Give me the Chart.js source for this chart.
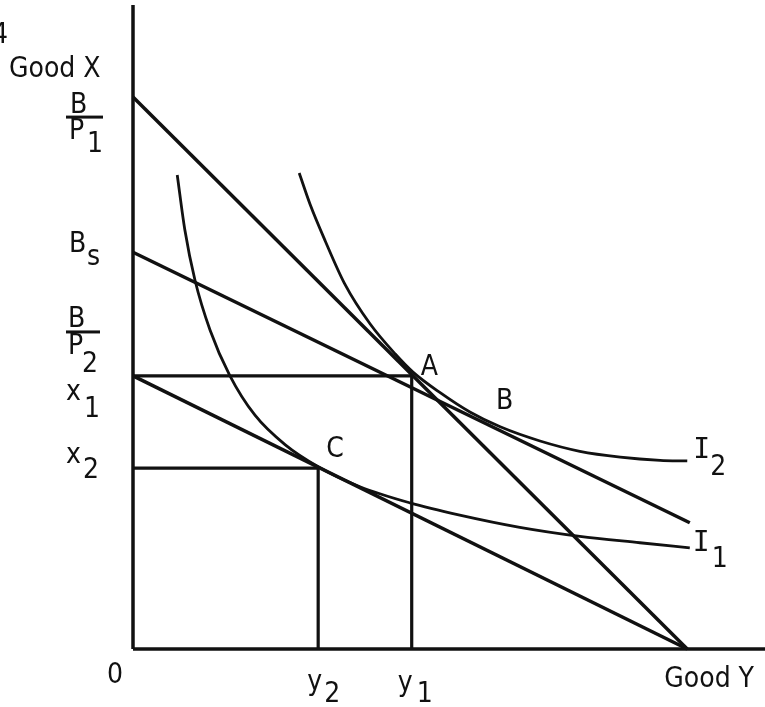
<!DOCTYPE html>
<html>
<head>
<meta charset="utf-8">
<script src="https://cdn.jsdelivr.net/npm/chart.js@4"></script>
<style>
html, body { margin: 0; padding: 0; background: #fff; }
#wrap { width: 765px; height: 707px; }
</style>
</head>
<body>
<div id="wrap"><canvas id="myChart" width="765" height="707"></canvas></div>
<script>
// axis ranges, arbitrary units
const xMax = 10;
const yMax = 10;

// budget lines (x = Good Y, y = Good X)
const budgetP1 = [{x: 0, y: 8.57}, {x: 8.77, y: 0}];
const budgetS = [{x: 0, y: 6.16}, {x: 8.81, y: 1.96}];
const budgetP2 = [{x: 0, y: 4.24}, {x: 8.77, y: 0}];

// chosen quantities: x1, x2 on Good X and y1, y2 on Good Y
const goodXLevels = [4.24, 2.81];
const goodYLevels = [4.41, 2.93];
const pointB = {x: 5.57, y: 3.51};

// indifference curves
const curveI2x = [2.63, 2.80, 3.04, 3.35, 3.75, 4.15, 4.43, 4.86, 5.33, 5.81, 6.44, 7.07, 7.71, 8.34, 8.77];
const curveI2y = [7.39, 6.91, 6.34, 5.67, 5.05, 4.58, 4.30, 3.98, 3.68, 3.45, 3.23, 3.07, 2.98, 2.93, 2.92];
const curveI1x = [0.70, 0.82, 0.98, 1.22, 1.53, 1.93, 2.41, 2.93, 3.59, 4.38, 5.17, 6.12, 7.07, 8.02, 8.81];
const curveI1y = [7.36, 6.51, 5.73, 4.95, 4.25, 3.63, 3.17, 2.83, 2.52, 2.27, 2.08, 1.89, 1.75, 1.65, 1.57];

const ink = '#111';

function toPoints(xs, ys) {
    return xs.map((x, i) => ({x: x, y: ys[i]}));
}

function lineSet(data, width, smooth) {
    return {
        data: data,
        showLine: true,
        borderColor: ink,
        borderWidth: width,
        pointRadius: 0,
        cubicInterpolationMode: smooth ? 'monotone' : 'default',
        tension: smooth ? 0.4 : 0,
        fill: false,
        clip: false
    };
}

const labelPlugin = {
    id: 'labels',
    afterDatasetsDraw(chart) {
        const ctx = chart.ctx;
        const xs = chart.scales.x;
        const ys = chart.scales.y;
        const ax = xs.getPixelForValue(0);
        const ay = ys.getPixelForValue(0);
        const sans = '28px "DejaVu Sans Condensed"';
        const mono = '28px "DejaVu Sans Mono"';

        ctx.save();
        ctx.fillStyle = ink;
        ctx.textBaseline = 'alphabetic';
        ctx.textAlign = 'left';
        ctx.font = sans;

        function txt(s, x, y) {
            ctx.fillText(s, x, y);
        }

        // top left
        ctx.textAlign = 'right';
        txt('4', 8, 43);
        ctx.textAlign = 'left';
        txt('Good X', 9, 77);

        // B/P1
        let bar = ys.getPixelForValue(budgetP1[0].y) + 20;
        ctx.fillRect(ax - 67, bar - 1.5, 37, 3);
        txt('B', ax - 63, bar - 4);
        txt('P', ax - 64, bar + 22);
        txt('1', ax - 46, bar + 35);

        // Bs
        let yy = ys.getPixelForValue(budgetS[0].y);
        txt('B', ax - 64, yy);
        txt('s', ax - 46, yy + 13);

        // B/P2
        bar = ys.getPixelForValue(budgetP2[0].y) - 44;
        ctx.fillRect(ax - 67, bar - 1.5, 34, 3);
        txt('B', ax - 65, bar - 5);
        txt('P', ax - 65, bar + 22);
        txt('2', ax - 51, bar + 40);

        // x1, x2
        yy = ys.getPixelForValue(goodXLevels[0]);
        txt('x', ax - 67, yy + 24);
        txt('1', ax - 49, yy + 41);
        yy = ys.getPixelForValue(goodXLevels[1]);
        txt('x', ax - 67, yy - 5);
        txt('2', ax - 50, yy + 10);

        // bottom
        txt('0', ax - 26, ay + 34);
        let xx = xs.getPixelForValue(goodYLevels[1]);
        txt('y', xx - 11, ay + 41);
        txt('2', xx + 6, ay + 53);
        xx = xs.getPixelForValue(goodYLevels[0]);
        txt('y', xx - 14, ay + 42);
        txt('1', xx + 5, ay + 53);
        ctx.textAlign = 'right';
        txt('Good Y', 754, ay + 38);
        ctx.textAlign = 'left';

        // points A, B, C
        txt('A', xs.getPixelForValue(goodYLevels[0]) + 9, ys.getPixelForValue(goodXLevels[0]) - 1);
        txt('B', xs.getPixelForValue(pointB.x) + 11, ys.getPixelForValue(pointB.y) - 14);
        txt('C', xs.getPixelForValue(goodYLevels[1]) + 8, ys.getPixelForValue(goodXLevels[1]) - 11);

        // curve names
        let n = curveI2x.length - 1;
        xx = xs.getPixelForValue(curveI2x[n]);
        yy = ys.getPixelForValue(curveI2y[n]);
        ctx.font = mono;
        txt('I', xx + 6, yy - 3);
        ctx.font = sans;
        txt('2', xx + 23, yy + 14);
        n = curveI1x.length - 1;
        xx = xs.getPixelForValue(curveI1x[n]);
        yy = ys.getPixelForValue(curveI1y[n]);
        ctx.font = mono;
        txt('I', xx + 3, yy + 3);
        ctx.font = sans;
        txt('1', xx + 22, yy + 19);

        ctx.restore();
    }
};

const ctx = document.getElementById('myChart').getContext('2d');
const chart = new Chart(ctx, {
    type: 'scatter',
    data: {
        datasets: [
            // axes
            lineSet([{x: 0, y: 0}, {x: 0, y: yMax}], 3.5),
            lineSet([{x: 0, y: 0}, {x: xMax, y: 0}], 3.5),
            // budget lines
            lineSet(budgetP1, 3.5),
            lineSet(budgetS, 3.5),
            lineSet(budgetP2, 3.5),
            // drop lines
            lineSet([{x: 0, y: goodXLevels[0]}, {x: goodYLevels[0], y: goodXLevels[0]}, {x: goodYLevels[0], y: 0}], 3.2),
            lineSet([{x: 0, y: goodXLevels[1]}, {x: goodYLevels[1], y: goodXLevels[1]}, {x: goodYLevels[1], y: 0}], 3.2),
            // indifference curves
            lineSet(toPoints(curveI2x, curveI2y), 2.8, true),
            lineSet(toPoints(curveI1x, curveI1y), 2.8, true)
        ]
    },
    options: {
        responsive: false,
        devicePixelRatio: 1,
        animation: false,
        layout: { padding: { left: 133, right: 0, top: 5, bottom: 58 } },
        plugins: {
            legend: { display: false },
            tooltip: { enabled: false }
        },
        scales: {
            x: { type: 'linear', min: 0, max: xMax, display: false },
            y: { type: 'linear', min: 0, max: yMax, display: false }
        }
    },
    plugins: [labelPlugin]
});
</script>
</body>
</html>
